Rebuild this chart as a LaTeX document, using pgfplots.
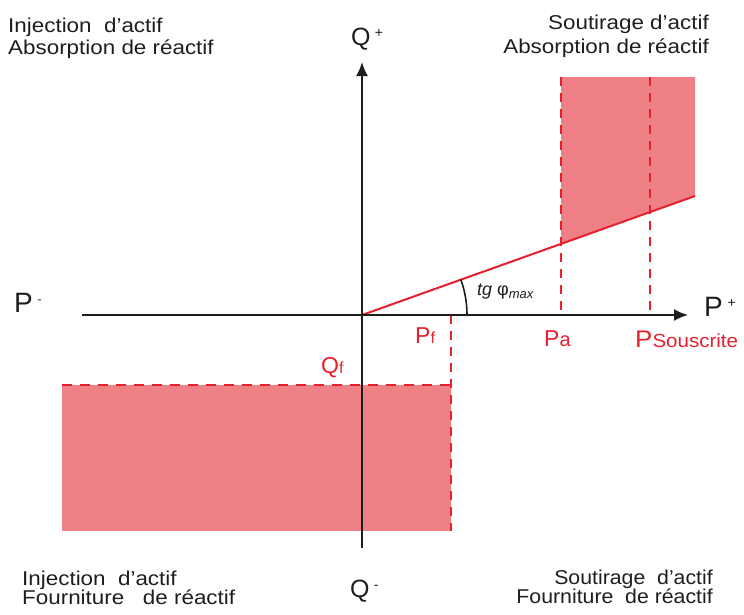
\documentclass[border=0pt]{standalone}
\usepackage{pgfplots}
\pgfplotsset{compat=1.18}
\usepackage{fontspec}
\setmainfont{Liberation Sans}
\usetikzlibrary{arrows.meta}
\definecolor{fillred}{RGB}{238,128,134}
\definecolor{linered}{RGB}{230,32,45}
\definecolor{txt}{RGB}{30,30,30}
\newcommand{\fs}[1]{\fontsize{#1}{#1}\selectfont}
\begin{document}
\begin{tikzpicture}
\begin{axis}[
  width=744pt, height=614pt, scale only axis,
  xmin=0, xmax=744, ymin=0, ymax=614, y dir=reverse,
  hide axis, clip=false,
]
\path (axis cs:0,0) rectangle (axis cs:744,614);
% shaded zones
\addplot[fill=fillred, draw=none] coordinates {(561,77) (695,77) (695,196) (561,244)};
\addplot[fill=fillred, draw=none] coordinates {(62,385) (451,385) (451,531) (62,531)};
% dashed limits
\addplot[linered, line width=2.5pt, dash pattern=on 9pt off 7pt] coordinates {(451,315) (451,531)};
\addplot[linered, line width=2.5pt, dash pattern=on 10pt off 8pt] coordinates {(62,385) (451,385)};
\addplot[linered, line width=2.5pt, dash pattern=on 9pt off 7pt] coordinates {(561,77) (561,315)};
\addplot[linered, line width=2.5pt, dash pattern=on 9pt off 7pt] coordinates {(650,77) (650,315)};
% tg phi max line
\addplot[linered, line width=2pt] coordinates {(362,315) (695,196)};
% axes
\draw[txt, line width=2pt, -{Latex[length=14pt,width=12pt]}] (axis cs:82,315) -- (axis cs:688,315);
\draw[txt, line width=2pt, -{Latex[length=14pt,width=12pt]}] (axis cs:362,548) -- (axis cs:362,62);
% angle arc
\draw[txt, line width=1.6pt] (axis cs:467,315) arc[start angle=0, end angle=19.7, radius=105pt];
% corner texts
\tikzset{ct/.style={inner sep=0, text=txt, font=\fs{20}, xscale=1.12}}
\node[ct, anchor=base west] at (axis cs:8,32) {Injection\ \ d'actif};
\node[ct, anchor=base west] at (axis cs:8,54) {Absorption de réactif};
\node[ct, anchor=base east] at (axis cs:709,29) {Soutirage d'actif};
\node[ct, anchor=base east] at (axis cs:709,53) {Absorption de réactif};
\node[ct, anchor=base west] at (axis cs:22,585) {Injection\ \ d'actif};
\node[ct, anchor=base west] at (axis cs:22,604) {Fourniture\ \ \ de réactif};
\node[ct, anchor=base east, xscale=0.95] at (axis cs:713,584) {Soutirage\ \ d'actif};
\node[ct, anchor=base east, xscale=0.95] at (axis cs:713,603) {Fourniture\ \ de réactif};
% axis labels
\node[anchor=base west, inner sep=0, text=txt, font=\fs{28}] at (axis cs:14,312) {P\,\raisebox{9pt}{\fs{12}-}};
\node[anchor=base west, inner sep=0, text=txt, font=\fs{28}] at (axis cs:704,316) {P\,\raisebox{9pt}{\fs{14}+}};
\node[anchor=base west, inner sep=0, text=txt, font=\fs{25}] at (axis cs:351,45) {Q\,\raisebox{8pt}{\fs{14}+}};
\node[anchor=base west, inner sep=0, text=txt, font=\fs{25}] at (axis cs:350,597) {Q\,\raisebox{8pt}{\fs{14}-}};
% red labels
\node[anchor=base west, inner sep=0, text=linered, font=\fs{23}] at (axis cs:415,343) {P{\fs{16}f}};
\node[anchor=base west, inner sep=0, text=linered, font=\fs{23}] at (axis cs:544,346) {P{\fs{20}a}};
\node[anchor=base west, inner sep=0, text=linered, font=\fs{24}, xscale=1.08] at (axis cs:635,347) {P{\fs{19}Souscrite}};
\node[anchor=base west, inner sep=0, text=linered, font=\fs{23}] at (axis cs:321,373) {Q{\fs{16}f}};
\node[anchor=base west, inner sep=0, text=txt, font=\fs{18}] at (axis cs:477,295) {\textit{tg}\ φ\raisebox{-3pt}{\fs{13}\itshape max}};
\end{axis}
\end{tikzpicture}
\end{document}
